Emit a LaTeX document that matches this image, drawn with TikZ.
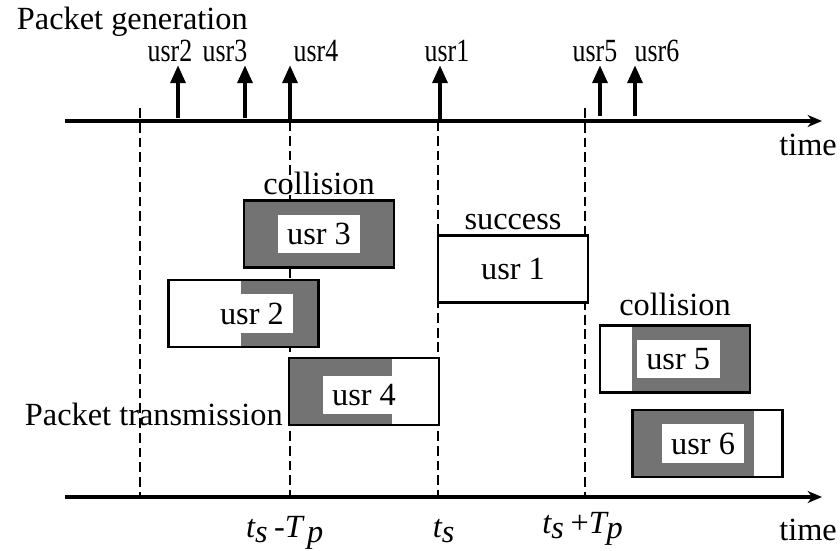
\documentclass[tikz,border=0pt]{standalone}
\usepackage{fontspec}
\setmainfont{Liberation Serif}
\usepackage{graphicx}
\usepackage{tikz}
\usetikzlibrary{arrows.meta,positioning}
\colorlet{hitgray}{black!55}
\newcommand{\narrow}[1]{\scalebox{0.8}[1]{#1}}
\tikzset{
    usrbox/.style={rectangle,draw,line width=1.6pt,fill=white,minimum width=3.75cm,minimum height=1.675cm,inner sep=0pt},
    shadeall/.style={fill=hitgray},
    shadeeast/.style={path picture={\fill[hitgray] (path picture bounding box.north east) rectangle ([xshift=-#1]path picture bounding box.south east);}},
    shadewest/.style={path picture={\fill[hitgray] (path picture bounding box.north west) rectangle ([xshift=#1]path picture bounding box.south west);}},
    usrlabel/.style={fill=white,inner xsep=6.7pt,inner ysep=5.8pt,text height=15.5pt,text depth=0pt},
    genlabel/.style={anchor=base,inner sep=0pt},
    statelabel/.style={inner sep=0.3333em},
    genarrow/.style={-{Triangle[length=4.5mm,width=3.6mm]},line width=3.4pt},
    timeline/.style={-{Stealth[length=3.6mm,width=3mm]},line width=2.4pt},
    slotline/.style={dash pattern=on 7pt off 3.5pt,line width=1.1pt}
}

\begin{document}
\begin{tikzpicture}[x=0.025cm,y=-0.025cm,node distance=0pt,font=\fontsize{23}{27}\selectfont]
    \useasboundingbox (0,0) rectangle (840,551);
    % time slot borders
    \foreach \x/\top [count=\i] in {140/108,290/121,438/121,585/108}{
        \coordinate (slottop\i) at (\x,\top);
        \coordinate (slotbot\i) at (\x,497);
        \draw[slotline] (slottop\i) -- (slotbot\i);
    }
    % axes
    \coordinate (genstart) at (65,121);
    \coordinate (genend) at (822,121);
    \coordinate (txstart) at (65,497);
    \coordinate (txend) at (822,497);
    \draw[timeline] (genstart) -- (genend);
    \draw[timeline] (txstart) -- (txend);
    \node[anchor=base] (gentime) at (808,155) {time};
    \node[anchor=base] (txtime) at (808,540) {time};
    \node[anchor=base west] (gentitle) at (12,30) {Packet generation};
    \node[anchor=base west] (txtitle) at (20,425) {Packet transmission};
    % packet arrivals
    \foreach \x/\y/\n in {178/118/2,245/118/3,290/121/4,440/121/1,600/116/5,635/116/6}{
        \coordinate (arrbase\n) at (\x,\y);
        \coordinate (arrtip\n) at (\x,65);
        \draw[genarrow] (arrbase\n) -- (arrtip\n);
    }
    \foreach \x/\n in {170/2,225/3,316/4,447/1,595/5,657/6}
        \node[genlabel] (gen\n) at (\x,62) {\narrow{usr\n}};
    % transmissions
    \node[usrbox,shadeall] (usr3) at (319,234) {};
    \node[usrbox,shadeeast=1.95cm] (usr2) at (243.5,313.5) {};
    \node[usrbox,shadewest=2.575cm] (usr4) at (364,391.5) {};
    \node[usrbox] (usr1) at (513,269) {usr 1};
    \node[usrbox,shadeeast=2.95cm] (usr5) at (675,359) {};
    \node[usrbox,shadewest=3.025cm] (usr6) at (707.5,443.5) {};
    \node[usrlabel] (lab3) at (usr3.center) {usr 3};
    \node[usrlabel] (lab2) at ([xshift=0.21cm]usr2.center) {usr 2};
    \node[usrlabel] (lab4) at ([yshift=-0.08cm]usr4.center) {usr 4};
    \node[usrlabel] (lab5) at ([xshift=0.08cm]usr5.center) {usr 5};
    \node[usrlabel] (lab6) at ([xshift=-0.11cm]usr6.center) {usr 6};
    \node[statelabel,above=of usr3] (coll1) {collision};
    \node[statelabel,above=of usr1] (succ) {success};
    \node[statelabel,above=1mm of usr5] (coll2) {collision};
    % slot marks
    \node[anchor=base] (tminus) at (285,537) {$\textit{t}_{\textit{s}}\,$-$\textit{T}_{\,\textit{p}}$};
    \node[anchor=base] (tnow) at (444,537) {$\textit{t}_{\textit{s}}$};
    \node[anchor=base] (tplus) at (583,533) {$\textit{t}_{\textit{s}}\,$+$\textit{T}_{\textit{p}}$};
\end{tikzpicture}
\end{document}
